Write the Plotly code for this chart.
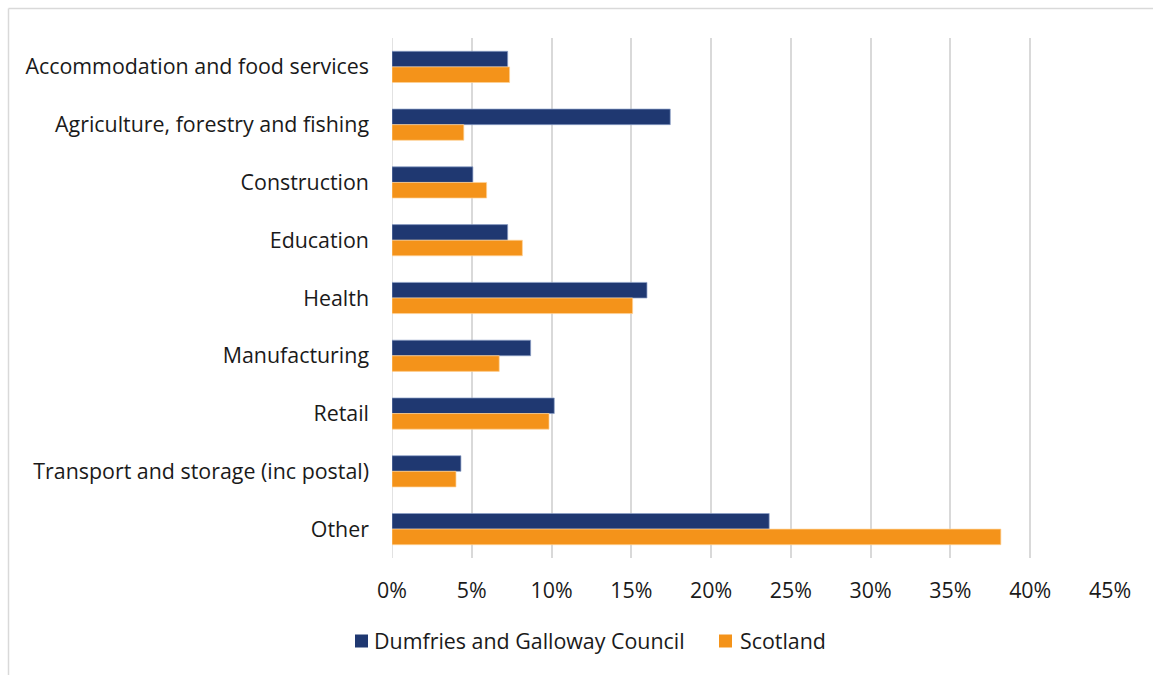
import plotly.graph_objects as go

categories = [
    "Accommodation and food services",
    "Agriculture, forestry and fishing",
    "Construction",
    "Education",
    "Health",
    "Manufacturing",
    "Retail",
    "Transport and storage (inc postal)",
    "Other",
]
dumfries = [0.0725, 0.1744, 0.0507, 0.0725, 0.1598, 0.0869, 0.1017, 0.0432, 0.2364]
scotland = [0.0737, 0.0450, 0.0593, 0.0817, 0.1508, 0.0672, 0.0984, 0.0401, 0.3816]
series_names = ["Dumfries and Galloway Council", "Scotland"]
tick_vals = [0, 0.05, 0.10, 0.15, 0.20, 0.25, 0.30, 0.35, 0.40, 0.45]
tick_text = ["0%", "5%", "10%", "15%", "20%", "25%", "30%", "35%", "40%", "45%"]

NAVY = "#1F3871"
ORANGE = "#F4931A"
FONT = "Open Sans"
TXT = "#1a1a1a"
FS = 21.4

fig = go.Figure()
fig.add_trace(go.Bar(
    y=categories, x=dumfries, name=series_names[0], orientation="h",
    marker=dict(color=NAVY, line=dict(color="rgba(140,160,200,0.7)", width=1)),
))
fig.add_trace(go.Bar(
    y=categories, x=scotland, name=series_names[1], orientation="h",
    marker=dict(color=ORANGE, line=dict(color="rgba(255,210,150,0.7)", width=1)),
))

W, H = 1153, 675
L, R, T, B = 392, 43, 38, 117
pw, ph = W - L - R, H - T - B


def px(xp):
    return (xp - L) / pw


def py(yp):
    return (H - B - yp) / ph


shapes = [
    dict(type="line", xref="x", yref="paper", x0=0, x1=0, y0=0, y1=1,
         line=dict(color="#D9D9D9", width=1.5), layer="below"),
    dict(type="line", xref="paper", yref="paper",
         x0=px(8.5), x1=px(W + 5), y0=py(8.5), y1=py(8.5),
         line=dict(color="#D9D9D9", width=1.5)),
    dict(type="line", xref="paper", yref="paper",
         x0=px(8.5), x1=px(8.5), y0=py(8.5), y1=py(H + 5),
         line=dict(color="#D9D9D9", width=1.5)),
]
annotations = []
legend_items = [(series_names[0], NAVY, 355, 372), (series_names[1], ORANGE, 719, 738)]
LEG_Y = 641
for name, col, sq_x, tx in legend_items:
    shapes.append(dict(type="rect", xref="paper", yref="paper",
                       x0=px(sq_x), x1=px(sq_x + 13), y0=py(LEG_Y - 6.5), y1=py(LEG_Y + 6.5),
                       fillcolor=col, line=dict(width=0)))
    annotations.append(dict(text=name, xref="paper", yref="paper", x=px(tx), y=py(LEG_Y),
                            xanchor="left", yanchor="middle", showarrow=False,
                            font=dict(family=FONT, size=FS, color=TXT)))

fig.update_layout(
    width=W, height=H,
    margin=dict(l=L, r=R, t=T, b=B, pad=0),
    paper_bgcolor="white", plot_bgcolor="white",
    barmode="group", bargap=0.46, bargroupgap=0,
    font=dict(family=FONT, size=FS, color=TXT),
    showlegend=False,
    xaxis=dict(
        range=[0, 0.45], tickvals=tick_vals, ticktext=tick_text,
        showgrid=True, gridcolor="#D9D9D9", gridwidth=1.5,
        zeroline=False, showline=False, ticks="", ticklabelstandoff=18,
        tickfont=dict(family=FONT, size=FS, color=TXT),
    ),
    yaxis=dict(
        autorange="reversed", showgrid=False, zeroline=False,
        showline=False, ticks="", ticklabelstandoff=22,
        tickfont=dict(family=FONT, size=FS, color=TXT),
    ),
    shapes=shapes,
    annotations=annotations,
)

fig.write_html("out.html")
